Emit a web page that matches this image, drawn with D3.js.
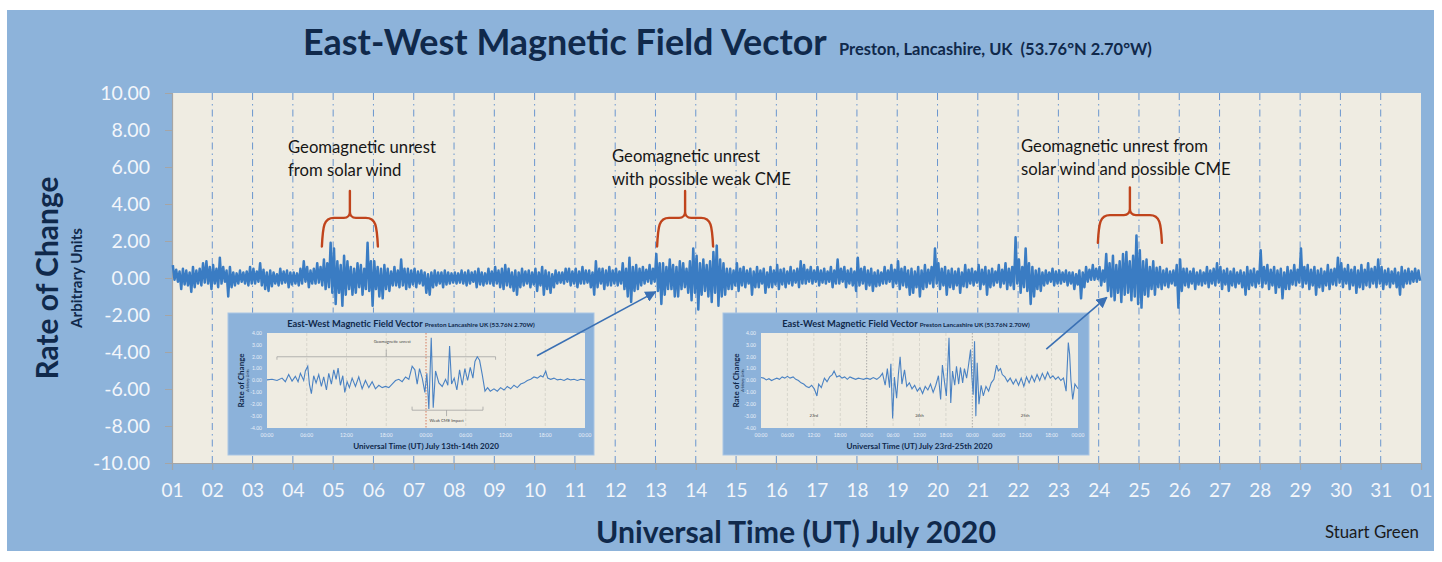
<!DOCTYPE html>
<html><head><meta charset="utf-8">
<script src="https://cdn.jsdelivr.net/npm/d3@7"></script>
<style>
html,body{margin:0;padding:0;background:#fff;}
svg{display:block;}
text{font-family:Lato,"Open Sans",sans-serif;}
</style></head><body>
<svg id="chart" width="1442" height="562"></svg>
<script>
// ---------------- DATA ----------------
const dayLabels = ["01","02","03","04","05","06","07","08","09","10","11","12","13","14","15","16",
  "17","18","19","20","21","22","23","24","25","26","27","28","29","30","31","01"];
const yTickValues = [-10,-8,-6,-4,-2,0,2,4,6,8,10];
const samplesPerDay = 12; // 2-hourly high / low readings of the trace
const highVals = [
 0.7,0.45,0.35,0.5,0.4,0.3,0.6,0.4,0.5,0.8,0.9,0.6,
 0.7,0.5,1.1,0.6,0.4,0.6,0.3,0.25,0.4,0.3,0.35,0.6,
 0.5,0.35,0.8,0.45,0.3,0.4,0.3,0.2,0.5,0.35,0.4,0.3,
 0.3,0.25,0.5,0.9,0.6,0.4,0.5,0.8,0.6,1.0,0.8,1.9,
 1.6,0.9,0.7,1.2,0.9,0.6,0.5,0.8,0.7,0.5,1.9,0.9,
 0.9,0.6,0.5,0.7,0.5,0.35,0.6,0.4,1.0,0.5,0.5,0.4,
 0.5,0.35,0.4,0.3,0.2,0.3,0.4,0.3,0.3,0.4,0.3,0.25,
 0.3,0.25,0.4,0.3,0.4,0.3,0.35,0.5,0.3,0.25,0.5,0.35,
 0.6,0.4,0.5,0.7,0.5,0.3,0.4,0.3,0.5,0.35,0.4,0.3,
 0.5,0.3,0.6,0.4,0.3,0.2,0.4,0.3,0.3,0.5,0.5,0.35,
 0.5,0.35,0.6,0.4,0.4,0.3,0.9,0.5,0.5,0.4,0.6,0.4,
 0.5,0.35,0.8,0.5,1.1,0.6,0.7,0.5,0.6,0.45,0.7,0.5,
 1.3,0.8,0.8,0.6,1.0,0.7,0.6,0.9,0.8,0.5,0.9,1.6,
 1.2,0.8,1.0,0.7,0.9,1.4,1.75,1.0,0.8,0.5,0.5,0.4,
 0.8,0.5,0.6,0.4,0.5,0.35,0.6,0.4,0.5,0.3,0.6,0.4,
 0.7,0.45,0.5,0.35,0.6,0.4,0.5,0.9,0.7,0.45,0.6,0.4,
 0.6,0.4,0.5,0.35,0.6,0.4,1.0,0.5,0.6,0.4,0.5,0.35,
 1.1,0.5,0.6,0.4,0.5,0.3,0.4,0.3,0.6,0.4,0.7,0.45,
 0.9,0.5,0.6,0.4,0.5,0.35,0.6,0.4,0.7,0.45,0.6,1.6,
 0.8,0.5,0.6,0.4,0.5,0.35,0.5,0.3,0.7,0.45,0.5,0.35,
 0.7,0.45,0.6,0.4,0.5,0.35,0.7,0.45,0.8,0.5,0.6,2.2,
 1.0,0.6,1.6,0.8,0.6,0.4,0.5,0.3,0.4,0.3,0.5,0.35,
 0.4,0.3,0.4,0.3,0.3,0.2,0.4,0.3,0.6,0.45,0.7,0.5,
 0.6,0.4,1.3,0.8,1.2,0.7,0.9,1.3,1.4,0.9,1.2,2.3,
 1.5,0.9,1.0,0.6,0.9,0.55,0.6,0.4,0.5,0.35,0.4,0.7,
 1.0,0.5,0.5,0.35,0.5,0.3,0.4,0.3,0.6,0.4,0.5,0.8,
 0.6,0.4,0.5,0.35,0.5,0.3,0.4,0.3,0.6,0.4,0.5,0.35,
 1.5,0.6,0.7,0.45,0.6,0.4,0.5,0.3,0.6,0.4,0.7,0.45,
 1.6,0.6,0.7,0.45,0.6,0.4,0.5,0.35,0.7,0.45,0.5,1.1,
 0.8,0.5,0.7,0.45,0.6,0.4,0.7,0.45,0.8,0.5,0.6,1.0,
 0.6,0.4,0.5,0.35,0.5,0.3,0.6,0.4,0.5,0.35,0.5,0.4];
const lowVals = [
 -0.1,-0.2,-0.6,-0.35,-0.4,-0.75,-0.5,-0.3,-0.4,-0.25,-0.3,-0.6,
 -0.3,-0.5,-0.3,-0.2,-1.0,-0.5,-0.4,-0.3,-0.2,-0.3,-0.4,-0.3,
 -0.3,-0.2,-0.4,-0.6,-0.7,-0.45,-0.3,-0.4,-0.3,-0.25,-0.5,-0.35,
 -0.3,-0.4,-0.3,-0.2,-0.5,-0.3,-0.3,-0.25,-0.4,-0.6,-0.5,-0.8,
 -1.4,-0.8,-1.5,-0.9,-0.6,-0.9,-0.8,-0.5,-0.9,-0.6,-0.7,-1.5,
 -0.6,-1.0,-1.1,-0.6,-0.7,-0.4,-0.4,-0.5,-0.4,-0.6,-0.5,-0.35,
 -0.5,-0.3,-0.4,-0.8,-0.9,-0.5,-0.4,-0.3,-0.5,-0.35,-0.3,-0.25,
 -0.3,-0.25,-0.3,-0.4,-0.3,-0.2,-0.5,-0.35,-0.4,-0.3,-0.3,-0.4,
 -0.3,-0.5,-0.6,-0.4,-0.5,-0.7,-0.9,-0.5,-0.4,-0.3,-0.5,-0.35,
 -0.7,-0.4,-0.9,-0.6,-0.8,-0.5,-0.3,-0.25,-0.3,-0.2,-0.4,-0.3,
 -0.5,-0.3,-0.3,-0.25,-0.5,-0.9,-0.5,-0.3,-0.6,-0.4,-0.4,-0.3,
 -0.4,-0.3,-0.6,-1.0,-1.3,-0.7,-0.6,-0.4,-0.3,-0.2,-0.3,-0.2,
 -0.7,-1.4,-0.9,-0.6,-0.6,-1.0,-1.0,-0.6,-0.5,-0.8,-1.2,-0.8,
 -1.7,-0.9,-0.7,-1.0,-1.3,-0.8,-1.5,-1.0,-0.9,-0.6,-0.6,-0.4,
 -0.7,-0.4,-0.5,-0.3,-0.9,-0.5,-0.5,-0.3,-0.8,-0.5,-0.5,-0.35,
 -0.6,-0.35,-0.5,-0.3,-0.4,-0.25,-0.5,-0.3,-0.3,-0.2,-0.3,-0.2,
 -0.4,-0.25,-0.3,-0.2,-0.5,-0.3,-0.3,-0.2,-0.5,-0.3,-0.4,-0.7,
 -0.4,-0.3,-0.6,-0.4,-0.7,-0.45,-0.4,-0.3,-0.3,-0.2,-0.5,-0.3,
 -0.6,-0.4,-0.5,-0.9,-0.8,-0.5,-1.0,-0.6,-0.5,-0.3,-0.5,-0.3,
 -0.6,-0.4,-0.9,-0.5,-0.6,-0.4,-0.8,-0.45,-0.5,-0.3,-0.4,-0.25,
 -0.6,-0.35,-0.9,-0.5,-0.4,-0.25,-0.5,-0.3,-0.6,-0.4,-0.6,-0.3,
 -0.8,-0.5,-0.7,-1.4,-1.0,-0.6,-0.7,-0.4,-0.3,-0.2,-0.4,-0.3,
 -0.3,-0.2,-0.4,-0.3,-0.6,-0.35,-1.1,-0.5,-0.2,-0.1,-0.1,-0.05,
 -0.4,-0.2,-0.7,-1.0,-1.2,-0.8,-1.3,-0.9,-0.8,-1.2,-1.0,-1.4,
 -1.6,-0.9,-1.0,-0.6,-0.9,-0.5,-0.6,-0.4,-0.5,-0.3,-0.4,-1.6,
 -0.7,-0.4,-0.5,-0.3,-0.6,-0.35,-0.4,-0.3,-0.5,-0.3,-0.4,-0.25,
 -0.6,-0.35,-0.7,-0.4,-0.5,-0.3,-0.5,-0.9,-0.6,-0.4,-0.5,-0.3,
 -0.5,-0.3,-0.6,-0.4,-0.8,-0.5,-1.1,-0.6,-0.6,-0.35,-0.4,-0.25,
 -0.5,-0.3,-0.6,-0.4,-0.9,-0.5,-0.7,-0.4,-0.6,-0.35,-0.4,-0.25,
 -0.5,-0.3,-0.6,-0.4,-0.8,-0.5,-0.6,-0.4,-0.5,-0.3,-0.5,-0.3,
 -0.6,-0.35,-0.5,-0.3,-0.5,-0.9,-0.5,-0.3,-0.3,-0.2,-0.2,-0.15];

// inset 1 : July 13th-14th (hours from 13th 00:00)
const inset1Hours = [0,0.76,1.51,2.27,2.77,3.27,3.78,4.28,4.69,5.04,5.54,5.79,6.15,6.40,6.70,7.05,7.41,7.81,8.21,8.56,8.97,9.32,9.72,10.08,10.43,10.73,11.08,11.44,11.74,12.09,12.44,12.85,13.35,13.85,14.36,14.86,15.37,15.87,16.37,16.88,17.38,17.88,18.39,18.89,19.40,19.90,20.40,20.91,21.41,21.91,22.32,22.67,23.02,23.43,23.83,24.13,24.43,24.79,25.09,25.44,25.94,26.45,26.95,27.30,27.56,27.86,28.26,28.66,29.07,29.47,29.87,30.28,30.68,31.08,31.39,31.74,32.09,32.49,32.90,33.30,33.70,34.26,34.76,35.26,35.77,36.27,36.78,37.28,37.78,38.29,38.79,39.29,39.80,40.30,40.81,41.31,41.66,42.07,42.37,42.82,43.32,43.83,44.33,44.84,45.34,45.84,46.35,46.85,47.36,48];
const inset1Vals = [0.05,0.1,0.0,0.2,-0.1,0.5,-0.05,0.35,-0.1,0.6,0.0,0.8,1.2,-0.3,-1.1,0.4,-0.2,0.5,-0.5,0.3,-0.8,0.6,-0.3,0.9,0.1,1.05,-0.4,0.4,-1.0,-0.1,-0.6,0.2,-0.5,0.3,-0.7,0.0,-0.6,-0.1,-0.7,-0.4,-0.6,-0.5,-0.6,-0.3,0.0,0.1,-0.1,0.3,0.1,1.2,0.9,-0.3,1.0,0.2,-1.0,0.6,-2.4,3.6,-2.3,0.8,-0.2,-0.5,0.1,-0.4,2.9,-0.3,0.2,-0.8,0.9,-0.4,1.0,0.0,1.1,0.2,1.6,2.0,1.7,0.5,-0.9,-0.6,-0.9,-0.7,-0.9,-0.6,-0.8,-0.5,-0.7,-0.4,-0.6,-0.3,-0.2,0.0,0.1,0.3,0.2,0.4,0.3,0.8,0.2,0.1,0.2,0.05,0.1,0.0,0.15,0.05,0.1,0.0,0.1,0.05];
const inset1Labels = ["00:00","06:00","12:00","18:00","00:00","06:00","12:00","18:00","00:00"];

// inset 2 : July 23rd-25th (hours from 23rd 00:00)
const inset2Hours = [0,0.6,1.2,1.8,2.4,3.0,3.6,4.2,4.8,5.4,6.0,6.6,7.3,7.9,8.5,9.1,9.7,10.3,10.9,11.5,12.1,12.7,13.1,13.7,14.4,15.0,15.6,16.2,16.6,17.2,17.8,18.4,19.0,19.6,20.2,20.8,21.5,22.1,22.7,23.3,24.0,24.8,25.5,26.3,27.0,27.6,28.2,28.7,29.2,29.5,29.9,30.3,30.8,31.2,31.6,32.0,32.6,33.1,33.7,34.3,34.9,35.5,36.1,36.7,37.3,37.9,38.5,39.1,39.7,40.3,40.8,41.2,41.7,42.1,42.4,42.7,43.1,43.5,44.0,44.4,44.9,45.3,45.8,46.2,46.7,47.1,47.6,47.9,48.2,48.5,48.8,49.1,49.5,50.0,50.5,51.1,51.7,52.3,52.9,53.5,53.9,54.4,54.8,55.4,56.0,56.6,57.3,57.9,58.5,59.1,59.7,60.3,60.9,61.5,62.1,62.7,63.3,63.9,64.5,65.1,65.7,66.3,66.9,67.5,68.1,68.7,69.3,69.8,70.1,70.4,70.8,71.3,72.0];
const inset2Vals = [0.25,0.2,0.05,0.15,0.0,0.1,0.2,0.1,0.3,0.2,0.35,0.2,0.3,0.1,0.0,-0.2,-0.3,-0.5,-0.6,-0.4,-0.7,-1.3,-0.3,-0.6,0.2,-0.1,0.3,0.5,0.8,0.3,0.4,0.2,0.3,0.1,0.3,0.2,0.1,0.2,0.15,0.1,0.2,0.1,0.25,0.1,0.3,0.6,-0.4,1.0,-0.6,1.4,-3.2,0.3,-1.5,0.5,2.0,-0.3,0.9,-0.5,-0.2,-0.7,-0.4,-0.9,-0.6,-1.1,-0.5,-0.8,-0.3,-1.0,-0.4,0.4,-1.6,1.3,-0.2,-1.3,1.0,3.6,-1.9,0.8,-0.4,1.2,-0.3,1.1,-0.2,1.0,0.2,1.2,2.6,0.3,-1.2,3.3,-3.0,1.5,-2.0,-0.4,-1.3,-0.5,-0.9,-0.2,0.1,1.3,0.8,1.0,0.5,0.3,-0.1,0.2,-0.3,0.1,-0.4,0.2,-0.5,0.3,-0.2,0.4,-0.1,0.5,0.0,0.6,0.1,0.7,0.2,0.4,0.1,0.3,0.0,0.2,-0.9,3.2,2.2,0.0,-1.6,-0.3,-0.7];
const inset2Labels = ["00:00","06:00","12:00","18:00","00:00","06:00","12:00","18:00","00:00","06:00","12:00","18:00","00:00"];
const inset2DayLabels = ["23rd","24th","25th"];
const insetYTicks = [-4,-3,-2,-1,0,1,2,3,4];

const annotationLines = [
  ["Geomagnetic unrest","from solar wind"],
  ["Geomagnetic unrest","with possible weak CME"],
  ["Geomagnetic unrest from","solar wind and possible CME"]
];

// ---------------- DRAW ----------------
const svg = d3.select("#chart");
const C = {bg:"#8db3da", plot:"#efece2", navy:"#10294b", line:"#3a7cc3", grid:"#6a96cf", axis:"#a5a5a5", brace:"#c0441c", arrow:"#3a70b4"};
function fit(sel, w){ const L = sel.node().getComputedTextLength(); const fs = parseFloat(sel.attr("font-size")); sel.attr("font-size", (fs*w/L).toFixed(2)); return sel; }

svg.append("rect").attr("x",7).attr("y",10).attr("width",1427).attr("height",541).attr("fill",C.bg);

const x = d3.scaleLinear().domain([0,31]).range([172,1421]);
const y = d3.scaleLinear().domain([-10,10]).range([463,93]);

svg.append("rect").attr("x",x(0)).attr("y",y(10)).attr("width",x(31)-x(0)).attr("height",y(-10)-y(10)).attr("fill",C.plot);

// vertical dash-dot gridlines
svg.append("g").selectAll("line").data(d3.range(1,31)).join("line")
  .attr("x1",d=>x(d)).attr("x2",d=>x(d)).attr("y1",y(10)).attr("y2",y(-10))
  .attr("stroke",C.grid).attr("stroke-width",1).attr("stroke-dasharray","7,4,1.5,4");

// axes
const xAxis = svg.append("g").attr("transform",`translate(0,${y(-10)})`)
  .call(d3.axisBottom(x).tickValues(d3.range(0,32)).tickFormat(d=>dayLabels[d]).tickSize(7).tickPadding(14));
xAxis.select(".domain").attr("stroke",C.axis).attr("stroke-width",1.2);
xAxis.selectAll(".tick line").attr("stroke",C.axis);
xAxis.selectAll(".tick text").attr("fill","#f3f6fa").attr("font-size",19).attr("font-family","Lato");

const yAxis = svg.append("g").attr("transform",`translate(${x(0)},0)`)
  .call(d3.axisLeft(y).tickValues(yTickValues).tickFormat(d=>d.toFixed(2)).tickSize(7).tickPadding(15));
yAxis.select(".domain").attr("stroke",C.axis).attr("stroke-width",1.2);
yAxis.selectAll(".tick line").attr("stroke",C.axis);
yAxis.selectAll(".tick text").attr("fill","#f3f6fa").attr("font-size",19.5).attr("font-family","Lato");

// main series: dense trace drawn through its 2-hourly high / low readings
const pts = [];
highVals.forEach((h,i)=>{ const t = i/samplesPerDay; pts.push([t+0.25/samplesPerDay,h]); pts.push([t+0.75/samplesPerDay,lowVals[i]]); });
svg.append("path").datum(pts).attr("fill","none").attr("stroke",C.line).attr("stroke-width",2.5)
  .attr("stroke-linejoin","round").attr("d",d3.line().x(d=>x(d[0])).y(d=>y(d[1])));

// insets
function drawInset(cfg){
  const g = svg.append("g");
  g.append("rect").attr("x",cfg.rx).attr("y",cfg.ry).attr("width",cfg.rw).attr("height",cfg.rh).attr("fill","#8cb2da").attr("stroke","#a9c5e4").attr("stroke-width",1);
  const xs = d3.scaleLinear().domain([0,cfg.hours]).range([cfg.px0,cfg.px1]);
  const ys = d3.scaleLinear().domain([-4,4]).range([cfg.py1,cfg.py0]);
  g.append("rect").attr("x",cfg.px0).attr("y",cfg.py0).attr("width",cfg.px1-cfg.px0).attr("height",cfg.py1-cfg.py0).attr("fill",C.plot);
  const gridH = d3.range(6,cfg.hours,6);
  g.selectAll(".ig").data(gridH).join("line")
    .attr("x1",d=>xs(d)).attr("x2",d=>xs(d)).attr("y1",cfg.py0).attr("y2",cfg.py1)
    .attr("stroke",d=>cfg.special(d)||"#d2d0c8").attr("stroke-width",0.8).attr("stroke-dasharray",d=>cfg.special(d)?"1.5,1.5":"3,2");
  g.selectAll(".iyl").data(insetYTicks).join("text").attr("x",cfg.px0-5).attr("y",d=>ys(d)+1.8)
    .attr("text-anchor","end").attr("font-size",5).attr("fill","#e9eff8").text(d=>d.toFixed(2));
  g.selectAll(".ixl").data(cfg.labels).join("text").attr("x",(d,i)=>xs(i*6)).attr("y",cfg.py1+9)
    .attr("text-anchor","middle").attr("font-size",5).attr("fill","#e9eff8").text(d=>d);
  const pts = cfg.hoursArr.map((h,i)=>[h,cfg.vals[i]]);
  if (cfg.extra) cfg.extra(g,xs,ys);
  g.append("path").datum(pts).attr("fill","none").attr("stroke","#4a82c3").attr("stroke-width",1.1)
    .attr("d",d3.line().x(d=>xs(d[0])).y(d=>ys(d[1])));
  const cx = cfg.rx+cfg.rw/2;
  const t = g.append("text").attr("x",cx).attr("y",cfg.ry+14).attr("text-anchor","middle").attr("fill",C.navy).attr("font-weight","bold");
  t.append("tspan").attr("font-size",9.3).text("East-West Magnetic Field Vector ");
  t.append("tspan").attr("font-size",6.3).text("Preston Lancashire UK (53.76N 2.70W)");
  fit(g.append("text").attr("x",(cfg.px0+cfg.px1)/2).attr("y",cfg.ry+136).attr("text-anchor","middle").attr("fill",C.navy)
    .attr("font-weight","bold").attr("font-size",8).text(cfg.xtitle),146);
  g.append("text").attr("transform",`translate(${cfg.rx+16},${(cfg.py0+cfg.py1)/2}) rotate(-90)`).attr("text-anchor","middle")
    .attr("fill",C.navy).attr("font-weight","bold").attr("font-size",8).text("Rate of Change");
  g.append("text").attr("transform",`translate(${cfg.rx+21},${(cfg.py0+cfg.py1)/2}) rotate(-90)`).attr("text-anchor","middle")
    .attr("fill",C.navy).attr("font-size",3.5).text("Arbitrary Units");
}

drawInset({rx:228,ry:313,rw:366,rh:142,px0:267,px1:585,py0:333,py1:428,hours:48,labels:inset1Labels,
  hoursArr:inset1Hours,vals:inset1Vals,xtitle:"Universal Time (UT) July 13th-14th 2020",
  special:d=>d===24?"#d06040":null,
  extra:(g,xs,ys)=>{
    const br = (h0,h1,hc,v,vEnd,vTip)=>`M${xs(h0)},${ys(vEnd)} L${xs(h0)},${ys(v)} L${xs(h1)},${ys(v)} L${xs(h1)},${ys(vEnd)} M${xs(hc)},${ys(v)} L${xs(hc)},${ys(vTip)}`;
    g.append("path").attr("d",br(1.5,34.5,18,2.0,1.75,2.6)).attr("fill","none").attr("stroke","#9a9a9a").attr("stroke-width",0.7);
    g.append("path").attr("d",br(21.9,32.6,27.1,-2.5,-2.2,-3.0)).attr("fill","none").attr("stroke","#9a9a9a").attr("stroke-width",0.7);
    g.append("text").attr("x",xs(18.9)).attr("y",ys(3.2)).attr("text-anchor","middle").attr("font-size",4.2).attr("fill","#444").text("Geomagnetic unrest");
    g.append("text").attr("x",xs(27.1)).attr("y",ys(-3.5)).attr("text-anchor","middle").attr("font-size",4.2).attr("fill","#444").text("Weak CME Impact");
  }});
drawInset({rx:723,ry:313,rw:366,rh:142,px0:761,px1:1078,py0:333,py1:428,hours:72,labels:inset2Labels,
  hoursArr:inset2Hours,vals:inset2Vals,xtitle:"Universal Time (UT) July 23rd-25th 2020",
  special:d=>(d===24||d===48)?"#9c9c9c":null,
  extra:(g,xs,ys)=>{
    g.selectAll(".dl").data(inset2DayLabels).join("text").attr("x",(d,i)=>xs(12+24*i)).attr("y",ys(-3.1))
      .attr("text-anchor","middle").attr("font-size",4.2).attr("fill","#444").text(d=>d);
  }});

// arrows
svg.append("defs").append("marker").attr("id","ah").attr("viewBox","0 0 10 10").attr("refX",9).attr("refY",5)
  .attr("markerWidth",7).attr("markerHeight",7).attr("orient","auto")
  .append("path").attr("d","M0,0 L10,5 L0,10 z").attr("fill",C.arrow);
const arrows = [[9.06,-4.2,12.0,-0.75],[21.7,-3.85,23.2,-1.05]];
svg.selectAll(".arr").data(arrows).join("line").attr("x1",d=>x(d[0])).attr("y1",d=>y(d[1])).attr("x2",d=>x(d[2])).attr("y2",d=>y(d[3]))
  .attr("stroke",C.arrow).attr("stroke-width",1.6).attr("marker-end","url(#ah)");

// braces
const braces = [[3.72,5.11,4.7,3.25,1.7],[12.04,13.43,4.7,3.25,1.7],[22.98,24.57,4.9,3.4,1.9]];
function bracePath(b){
  const x0=x(b[0]), x1=x(b[1]), xc=(x0+x1)/2, yt=y(b[2]), ym=y(b[3]), yb=y(b[4]);
  const r=12, r2=6;
  return `M${x0},${yb} C${x0+1},${ym+8} ${x0+2},${ym} ${x0+r},${ym} L${xc-r2},${ym} C${xc-2},${ym} ${xc},${ym-3} ${xc},${ym-r2} L${xc},${yt}`+
         ` M${xc},${ym-r2} C${xc},${ym-3} ${xc+2},${ym} ${xc+r2},${ym} L${x1-r},${ym} C${x1-2},${ym} ${x1-1},${ym+8} ${x1},${yb}`;
}
svg.selectAll(".brace").data(braces).join("path").attr("d",bracePath).attr("fill","none")
  .attr("stroke",C.brace).attr("stroke-width",2.4).attr("stroke-linecap","round");

// annotation text
const annPos = [[288,153],[612,162],[1021,152]];
let annSize = null;
annotationLines.forEach((lines,i)=>{
  lines.forEach((s,j)=>{
    const t = svg.append("text").attr("x",annPos[i][0]).attr("y",annPos[i][1]+j*22.5).attr("fill","#161616").attr("font-size",16.5).text(s);
    if (i===0 && j===0){ fit(t,148); annSize = t.attr("font-size"); } else t.attr("font-size",annSize);
  });
});

// titles
fit(svg.append("text").attr("x",303).attr("y",55).attr("fill",C.navy).attr("font-weight","bold").attr("font-size",31)
  .text("East-West Magnetic Field Vector"),524);
fit(svg.append("text").attr("x",839).attr("y",55).attr("fill",C.navy).attr("font-weight","bold").attr("font-size",15)
  .style("white-space","pre").text("Preston, Lancashire, UK  (53.76°N 2.70°W)"),313);
fit(svg.append("text").attr("transform","translate(58,278) rotate(-90)").attr("text-anchor","middle").attr("fill",C.navy)
  .attr("font-weight","bold").attr("font-size",29).text("Rate of Change"),203);
fit(svg.append("text").attr("transform","translate(82,278) rotate(-90)").attr("text-anchor","middle").attr("fill",C.navy)
  .attr("font-weight","bold").attr("font-size",14).text("Arbitrary Units"),100);
fit(svg.append("text").attr("x",796).attr("y",543).attr("text-anchor","middle").attr("fill",C.navy).attr("font-weight","bold")
  .attr("font-size",28).text("Universal Time (UT) July 2020"),400);
fit(svg.append("text").attr("x",1325).attr("y",538).attr("fill","#1a1a1a").attr("font-size",15).text("Stuart Green"),94);
</script>
</body></html>
